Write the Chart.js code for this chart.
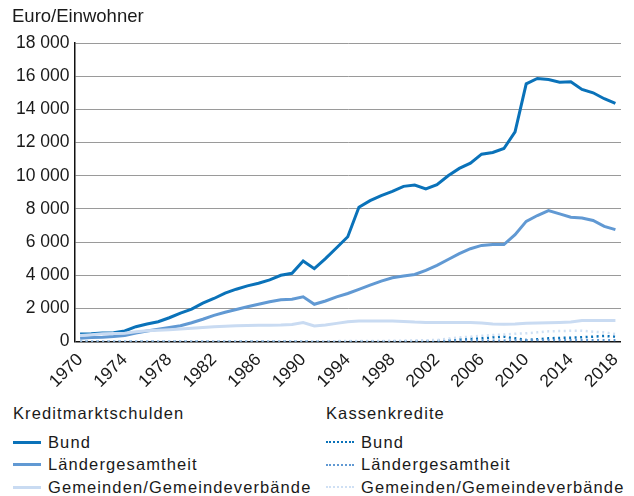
<!DOCTYPE html>
<html>
<head>
<meta charset="utf-8">
<script src="https://cdn.jsdelivr.net/npm/chart.js@4"></script>
<style>
  body { margin: 0; width: 634px; height: 496px; background: #fff; font-family: "Liberation Sans", Arial, sans-serif; color: #1a1a1a; position: relative; overflow: hidden; }
  #wrap { position: absolute; left: 0; top: 0; width: 634px; height: 392px; }
  #unit { position: absolute; left: 12px; top: 5px; font-size: 18.5px; }
  .legend-col { position: absolute; top: 404px; font-size: 16.5px; letter-spacing: 1.1px; }
  .legend-col .head { height: 24px; margin-bottom: 3px; }
  .legend-col .row { height: 22.5px; display: flex; align-items: center; }
  .legend-col .swatch { width: 28px; margin-right: 7px; }
</style>
</head>
<body>
<div id="wrap"><canvas id="debtChart"></canvas></div>
<div id="unit">Euro/Einwohner</div>
<div class="legend-col" id="legend-left" style="left:13px"></div>
<div class="legend-col" id="legend-right" style="left:326px"></div>
<script>
// --- Data ---
const years = [];
for (let y = 1970; y <= 2018; y++) years.push(String(y));

// Kreditmarktschulden, Euro je Einwohner
const bundKredit = [460, 480, 520, 540, 640, 900, 1060, 1200, 1440, 1720,
  1960, 2320, 2600, 2920, 3160, 3360, 3520, 3720, 4000, 4120,
  4860, 4400, 5000, 5660, 6320, 8100, 8500, 8800, 9050, 9360,
  9440, 9200, 9460, 10000, 10440, 10760, 11300, 11400, 11640, 12640,
  15540, 15860, 15800, 15640, 15660, 15200, 15000, 14640, 14360];
const laenderKredit = [210, 250, 270, 310, 370, 520, 640, 750, 850, 960,
  1140, 1350, 1580, 1770, 1940, 2100, 2250, 2400, 2520, 2560,
  2700, 2250, 2450, 2700, 2900, 3150, 3400, 3650, 3850, 3950,
  4050, 4300, 4600, 4950, 5300, 5600, 5800, 5850, 5850, 6450,
  7250, 7600, 7900, 7700, 7500, 7450, 7300, 6950, 6750];
const gemeindenKredit = [370, 420, 470, 490, 510, 600, 650, 690, 720, 760,
  800, 850, 900, 930, 950, 970, 980, 990, 1000, 1030,
  1150, 940, 1000, 1100, 1200, 1240, 1250, 1250, 1240, 1220,
  1180, 1160, 1150, 1150, 1160, 1160, 1120, 1060, 1040, 1060,
  1100, 1120, 1140, 1160, 1180, 1270, 1270, 1270, 1270];

// Kassenkredite, Euro je Einwohner
const bundKasse = [0, 0, 0, 0, 0, 0, 0, 0, 0, 0,
  0, 0, 0, 0, 0, 0, 0, 0, 0, 0,
  0, 0, 0, 0, 0, 0, 0, 0, 0, 0,
  10, 20, 40, 80, 140, 180, 200, 260, 300, 200,
  100, 140, 200, 220, 240, 260, 300, 340, 300];
const laenderKasse = [0, 0, 0, 0, 0, 0, 0, 0, 0, 0,
  0, 0, 0, 0, 0, 0, 0, 0, 0, 0,
  10, 10, 10, 10, 10, 10, 10, 10, 20, 20,
  30, 30, 40, 50, 60, 60, 60, 60, 60, 70,
  80, 80, 80, 80, 90, 90, 90, 90, 90];
const gemeindenKasse = [10, 10, 10, 10, 10, 10, 10, 10, 10, 10,
  10, 10, 10, 10, 10, 10, 10, 10, 10, 10,
  10, 20, 20, 30, 30, 40, 40, 40, 50, 60,
  70, 80, 100, 180, 250, 300, 350, 400, 430, 470,
  500, 560, 620, 640, 650, 650, 600, 560, 460];

const yTicks = [0, 2000, 4000, 6000, 8000, 10000, 12000, 14000, 16000, 18000];

const colors = {
  bund: '#0a72b9',
  laender: '#6199d3',
  gemeinden: '#c9dbf2',
  gemeindenDot: '#cfe0f4'
};

function fmt(v) {
  return String(v).replace(/\B(?=(\d{3})+(?!\d))/g, ' ');
}

const dotted = [2, 3.5];

const datasets = [
  { label: 'Gemeinden/Gemeindeverbände', data: gemeindenKasse, borderColor: colors.gemeindenDot, borderWidth: 2.5, borderDash: dotted },
  { label: 'Ländergesamtheit', data: laenderKasse, borderColor: colors.laender, borderWidth: 2.5, borderDash: dotted },
  { label: 'Bund', data: bundKasse, borderColor: colors.bund, borderWidth: 2.5, borderDash: dotted },
  { label: 'Gemeinden/Gemeindeverbände', data: gemeindenKredit, borderColor: colors.gemeinden, borderWidth: 3 },
  { label: 'Ländergesamtheit', data: laenderKredit, borderColor: colors.laender, borderWidth: 3 },
  { label: 'Bund', data: bundKredit, borderColor: colors.bund, borderWidth: 3 }
].map(d => Object.assign({ pointRadius: 0, tension: 0, fill: false }, d));

const font = { family: '"Liberation Sans", Arial, sans-serif', size: 17.5 };

new Chart(document.getElementById('debtChart'), {
  type: 'line',
  data: { labels: years, datasets: datasets },
  options: {
    responsive: true,
    maintainAspectRatio: false,
    animation: false,
    layout: { padding: { top: 43, right: 13, left: 11, bottom: 0 } },
    plugins: { legend: { display: false }, tooltip: { enabled: false } },
    scales: {
      x: {
        offset: true,
        grid: { display: false },
        border: { display: false },
        ticks: {
          autoSkip: false,
          maxRotation: 45,
          minRotation: 45,
          padding: 0,
          color: '#1a1a1a',
          font: font,
          callback: function (val, i) { return i % 4 === 0 ? years[i] : ''; }
        }
      },
      y: {
        min: 0,
        max: 18000,
        afterBuildTicks: function (scale) { scale.ticks = yTicks.map(v => ({ value: v })); },
        grid: {
          color: function (ctx) { return ctx.tick && ctx.tick.value === 0 ? '#111' : '#9a9a9a'; },
          lineWidth: function (ctx) { return ctx.tick && ctx.tick.value === 0 ? 1.5 : 1; },
          drawTicks: false
        },
        border: { color: '#111', width: 1.5 },
        ticks: {
          padding: 5,
          color: '#1a1a1a',
          font: font,
          callback: function (v) { return fmt(v); }
        }
      }
    }
  }
});

// --- Legend ---
function legendColumn(el, title, items) {
  const head = document.createElement('div');
  head.className = 'head';
  head.textContent = title;
  el.appendChild(head);
  items.forEach(function (it) {
    const row = document.createElement('div');
    row.className = 'row';
    const sw = document.createElement('span');
    sw.className = 'swatch';
    sw.style.borderTop = it.dotted ? '2.5px dotted ' + it.color : '3px solid ' + it.color;
    row.appendChild(sw);
    const txt = document.createElement('span');
    txt.textContent = it.label;
    row.appendChild(txt);
    el.appendChild(row);
  });
}

legendColumn(document.getElementById('legend-left'), 'Kreditmarktschulden', [
  { label: 'Bund', color: colors.bund },
  { label: 'Ländergesamtheit', color: colors.laender },
  { label: 'Gemeinden/Gemeindeverbände', color: colors.gemeinden }
]);
legendColumn(document.getElementById('legend-right'), 'Kassenkredite', [
  { label: 'Bund', color: colors.bund, dotted: true },
  { label: 'Ländergesamtheit', color: colors.laender, dotted: true },
  { label: 'Gemeinden/Gemeindeverbände', color: colors.gemeindenDot, dotted: true }
]);
</script>
</body>
</html>
